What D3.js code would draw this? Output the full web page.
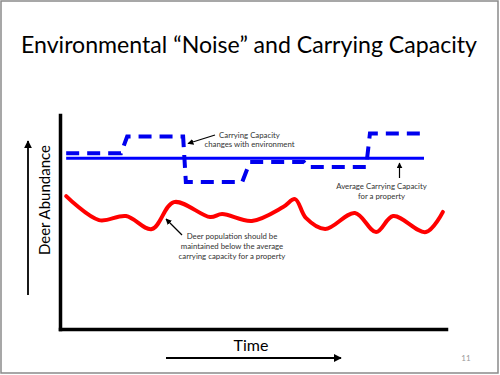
<!DOCTYPE html>
<html>
<head>
<meta charset="utf-8">
<script src="https://cdn.jsdelivr.net/npm/d3@7"></script>
<style>
  html, body { margin: 0; padding: 0; background: #fff; }
  svg { display: block; }
</style>
</head>
<body>
<svg id="chart" width="500" height="375"></svg>
<script>
// ---- data (arbitrary units: time 0-100, abundance 0-100) ----
const popTime   = [1.6, 10.1, 17.1, 23.8, 29.5, 38.9, 42.0, 49.7, 57.8, 60.9, 63.7, 68.7, 76.4, 81.9, 86.3, 94.8, 99.2];
const popValue  = [62.1, 50.9, 52.8, 46.7, 59.3, 52.3, 53.7, 50.5, 57.0, 60.7, 51.9, 46.7, 54.2, 45.3, 52.8, 45.3, 54.7];
const capTime   = [1.6, 15.8, 17.4, 31.9, 32.6, 47.2, 49.2, 63.2, 64.2, 79.3, 80.3, 94.3];
const capValue  = [82.1, 82.1, 89.9, 89.9, 68.7, 68.7, 78.0, 78.0, 75.7, 75.7, 91.4, 91.4];
const avgTime   = [1.6, 94.3];
const avgValue  = [79.8, 79.8];
const titleText = "Environmental \u201CNoise\u201D and Carrying Capacity";
const xLabel = "Time";
const yLabel = "Deer Abundance";
const noteCap = ["Carrying  Capacity", "changes with environment"];
const noteAvg = ["Average Carrying  Capacity", "for a property"];
const notePop = ["Deer population should be", "maintained below the average", "carrying capacity for a property"];
const pageNum = "11";

const svg = d3.select("#chart");
const W = 500, H = 375;

// slide frame
svg.append("rect").attr("x", 1).attr("y", 1).attr("width", W - 3).attr("height", H - 3)
  .attr("fill", "#fff").attr("stroke", "#8a8a8a").attr("stroke-width", 1.5);

// title
const title = svg.append("text").attr("x", 249).attr("y", 53)
  .attr("text-anchor", "middle").attr("font-family", "Lato, 'Open Sans', sans-serif")
  .attr("font-size", 23).attr("fill", "#000").text(titleText);
title.attr("textLength", 456).attr("lengthAdjust", "spacingAndGlyphs");

const x = d3.scaleLinear().domain([0, 100]).range([60, 446]);
const y = d3.scaleLinear().domain([0, 100]).range([329, 115]);

// axes (no ticks, only the domain lines)
const gx = svg.append("g").attr("transform", "translate(0,329)")
  .call(d3.axisBottom(x).tickValues([]).tickSizeOuter(0));
const gy = svg.append("g").attr("transform", "translate(60,0)")
  .call(d3.axisLeft(y).tickValues([]).tickSizeOuter(0));
svg.selectAll(".domain").attr("stroke", "#000").attr("stroke-width", 3.5).attr("stroke-linecap", "square");

const line = d3.line().x(d => x(d[0])).y(d => y(d[1]));

// average carrying capacity (solid)
svg.append("path").datum(d3.zip(avgTime, avgValue))
  .attr("d", line).attr("fill", "none").attr("stroke", "#0000ff").attr("stroke-width", 3);

// carrying capacity (dashed)
svg.append("path").datum(d3.zip(capTime, capValue))
  .attr("d", line).attr("fill", "none").attr("stroke", "#0000ee").attr("stroke-width", 4)
  .attr("stroke-dasharray", "13,8");

// deer population (red curve)
svg.append("path").datum(d3.zip(popTime, popValue))
  .attr("d", line.curve(d3.curveCatmullRom.alpha(0.5)))
  .attr("fill", "none").attr("stroke", "#ff0000").attr("stroke-width", 4).attr("stroke-linecap", "round");

// arrow markers
const defs = svg.append("defs");
function marker(id, size) {
  defs.append("marker").attr("id", id).attr("viewBox", "0 0 10 10")
    .attr("refX", 9).attr("refY", 5).attr("markerUnits", "userSpaceOnUse")
    .attr("markerWidth", size).attr("markerHeight", size).attr("orient", "auto")
    .append("path").attr("d", "M0,0 L10,5 L0,10 z").attr("fill", "#000");
}
marker("bigArrow", 8);
marker("smallArrow", 6);

// big axis arrows
svg.append("line").attr("x1", 28).attr("y1", 295).attr("x2", 28).attr("y2", 141)
  .attr("stroke", "#000").attr("stroke-width", 1.8).attr("marker-end", "url(#bigArrow)");
svg.append("line").attr("x1", 166).attr("y1", 358).attr("x2", 341).attr("y2", 358)
  .attr("stroke", "#000").attr("stroke-width", 1.8).attr("marker-end", "url(#bigArrow)");

// axis labels
svg.append("text").attr("x", 251).attr("y", 351).attr("text-anchor", "middle")
  .attr("font-family", "Lato, 'Open Sans', sans-serif").attr("font-size", 16).attr("fill", "#000").text(xLabel);
svg.append("text").attr("transform", "translate(50,200) rotate(-90)").attr("text-anchor", "middle")
  .attr("font-family", "Lato, 'Open Sans', sans-serif").attr("font-size", 15).attr("fill", "#000").text(yLabel);

// annotations
function note(lines, cx, y0, dy) {
  const t = svg.append("text").attr("text-anchor", "middle")
    .attr("font-family", "Lato, 'Open Sans', sans-serif").attr("font-size", 7.8).attr("fill", "#333");
  lines.forEach((l, i) => t.append("tspan").attr("x", cx).attr("y", y0 + i * dy).text(l));
}
note(noteCap, 249.5, 137.5, 9.5);
note(noteAvg, 381.5, 188.5, 10.5);
note(notePop, 232, 239, 10);

function pointer(x1, y1, x2, y2) {
  svg.append("line").attr("x1", x1).attr("y1", y1).attr("x2", x2).attr("y2", y2)
    .attr("stroke", "#000").attr("stroke-width", 1.2).attr("marker-end", "url(#smallArrow)");
}
pointer(215, 135, 188, 143.5);
pointer(399.5, 178, 399.5, 163);
pointer(182, 235, 166, 219);

// page number
svg.append("text").attr("x", 466).attr("y", 361).attr("text-anchor", "middle")
  .attr("font-family", "Lato, 'Open Sans', sans-serif").attr("font-size", 8).attr("fill", "#999").text(pageNum);
</script>
</body>
</html>
